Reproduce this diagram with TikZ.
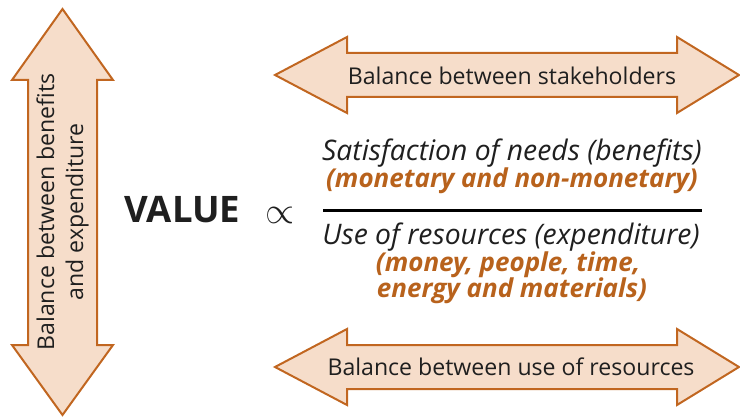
\documentclass[tikz,border=0pt]{standalone}
\usepackage{fontspec}
\setmainfont{Open Sans}
\definecolor{arrowfill}{RGB}{246,221,202}
\definecolor{arrowline}{RGB}{193,102,32}
\definecolor{textorange}{RGB}{184,98,28}

\begin{document}
\begin{tikzpicture}[x=1pt,y=-1pt,
	balarrow/.style={draw=arrowline,fill=arrowfill,line width=2pt,line join=miter},
	balance/.style={text=black!88,font=\fontsize{23.1}{29}\selectfont},
	ratio/.style={anchor=base,inner sep=0,text=black!88,font=\fontsize{28.3}{28}\selectfont\itshape},
	ratiobrown/.style={ratio,text=textorange,font=\fontsize{26}{28}\selectfont\bfseries\itshape}]
	\useasboundingbox (0,0) rectangle (740,417);
	\draw[balarrow] (62.5,9) -- (113,80) -- (97,80) -- (97,345) -- (113,345) -- (62.5,415) -- (12,345) -- (28,345) -- (28,80) -- (12,80) -- cycle;
	\draw[balarrow] (275,75) -- (347,37) -- (347,53) -- (677,53) -- (677,37) -- (739,75) -- (677,113) -- (677,97) -- (347,97) -- (347,113) -- cycle;
	\draw[balarrow] (275,367) -- (347,329) -- (347,345) -- (677,345) -- (677,329) -- (739,367) -- (677,405) -- (677,389) -- (347,389) -- (347,405) -- cycle;
	\node[balance,rotate=90,align=center] (benefits) at (62.5,212) {Balance between benefits\\and expenditure};
	\node[balance] (stakeholders) at (512,76) {Balance between stakeholders};
	\node[balance] (resources) at (511,367) {Balance between use of resources};
	\node[text=black!88,font=\fontsize{36.5}{36}\selectfont\bfseries] (value) at (182.5,210) {VALUE};
	\node[text=black!88,scale=1.5,font=\fontsize{24}{24}\selectfont] (propto) at (280,215) {$\propto$};
	\draw[line width=3pt] (323,211) -- (702,211);
	\node[ratio] (needs) at (512,161) {Satisfaction of needs (benefits)};
	\node[ratiobrown] (monetary) at (512,188) {(monetary and non-monetary)};
	\node[ratio] (use) at (511,245) {Use of resources (expenditure)};
	\node[ratiobrown] (money) at (508,272) {(money, people, time,};
	\node[ratiobrown] (energy) at (512,298) {energy and materials)};
\end{tikzpicture}
\end{document}
